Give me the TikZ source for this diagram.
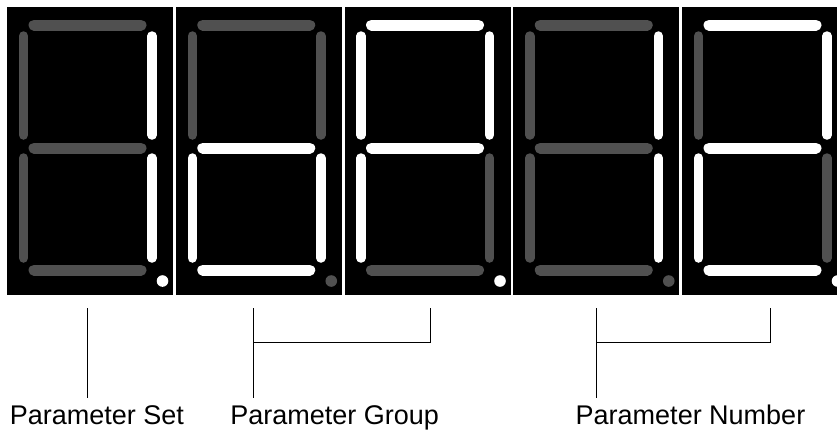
\documentclass[tikz,border=0pt]{standalone}
\usepackage{fontspec}
\setmainfont{Liberation Sans}
\usepackage{tikz}

\definecolor{segoff}{RGB}{80,80,80}
\colorlet{segon}{white}

\begin{document}
\begin{tikzpicture}[x=1pt,y=-1pt,
  hseg/.style={line width=11pt,line cap=round},
  vseg/.style={line width=9.5pt,line cap=round},
  lbl/.style={anchor=base,inner sep=0pt,font=\fontsize{27}{32}\selectfont}]
\clip (0,0) rectangle (837,432);
\fill[white] (0,0) rectangle (837,432);

% Digits: a/b/c/d/e/f/g/dot for each panel
\foreach \n/\a/\b/\c/\d/\e/\f/\g/\p in {
    0/segoff/segon/segon/segoff/segoff/segoff/segoff/segon,
    1/segoff/segoff/segon/segon/segon/segoff/segon/segoff,
    2/segon/segon/segoff/segoff/segon/segon/segon/segon,
    3/segoff/segon/segon/segoff/segoff/segoff/segoff/segoff,
    4/segon/segon/segoff/segon/segon/segoff/segon/segon}{
  \begin{scope}[xshift={7pt+\n*168.75pt}]
    \fill[black] (0,7) rectangle (166,295);
    \draw[hseg,\a] (27,25) -- (134,25);
    \draw[vseg,\b] (145,36) -- (145,135);
    \draw[vseg,\c] (145,158) -- (145,258);
    \draw[hseg,\d] (27,270) -- (134,270);
    \draw[vseg,\e] (16.5,158) -- (16.5,258);
    \draw[vseg,\f] (16.5,36) -- (16.5,135);
    \draw[hseg,\g] (27,148) -- (134,148);
    \fill[\p] (155.5,281) circle (5.8);
  \end{scope}
}

% Brackets under the digits
\coordinate (settop) at (87,308);
\coordinate (setbot) at (87,398);
\coordinate (grptop) at (253,308);
\coordinate (grpbot) at (253,398);
\coordinate (grpmid) at (253,342);
\coordinate (grpend) at (430,308);
\coordinate (numtop) at (596,308);
\coordinate (numbot) at (596,398);
\coordinate (nummid) at (596,342);
\coordinate (numend) at (770,308);

\draw[line width=0.8pt] (settop) -- (setbot);
\draw[line width=0.8pt] (grptop) -- (grpbot);
\draw[line width=0.8pt] (grpend) |- (grpmid);
\draw[line width=0.8pt] (numtop) -- (numbot);
\draw[line width=0.8pt] (numend) |- (nummid);

% Labels
\node[lbl] (setlbl) at (96.8,424) {Parameter Set};
\node[lbl] (grplbl) at (334.7,424) {Parameter Group};
\node[lbl] (numlbl) at (690.5,424) {Parameter Number};
\end{tikzpicture}
\end{document}
